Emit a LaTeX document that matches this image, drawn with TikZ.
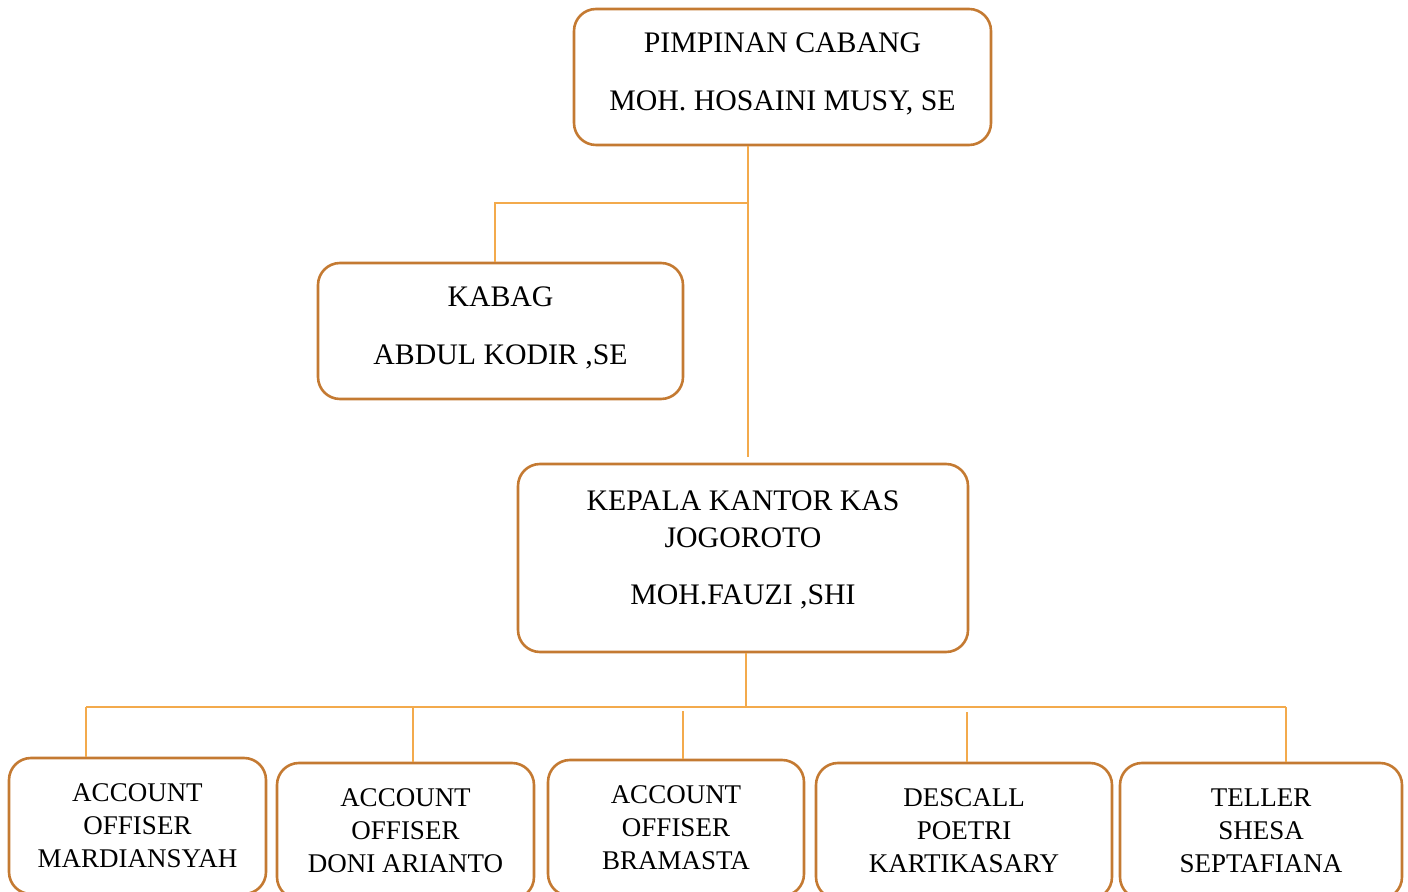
\documentclass[tikz,border=0pt]{standalone}
\usepackage{fontspec}
\setmainfont{Liberation Serif}
\definecolor{boxline}{HTML}{C47A32}
\definecolor{linkline}{HTML}{F3AA4C}
\begin{document}
\begin{tikzpicture}[x=0.5pt,y=-0.5pt,
   box/.style={draw=boxline,line width=1.3pt,rounded corners=11pt,align=center,inner sep=0pt},
   bigbox/.style={box,font=\fontsize{14.9}{18.5}\selectfont},
   smallbox/.style={box,font=\fontsize{13.5}{16.5}\selectfont,minimum height=68pt},
   link/.style={draw=linkline,line width=0.7pt}]
   \useasboundingbox (0,0) rectangle (1408,892);

   \node[bigbox,minimum width=208.5pt,minimum height=68pt,text depth=5pt] (pimpinan) at (782.5,77)
      {PIMPINAN CABANG\\[10.5pt]MOH. HOSAINI MUSY, SE};
   \node[bigbox,minimum width=182.5pt,minimum height=68pt,text depth=5pt] (kabag) at (500.5,331)
      {KABAG\\[10.5pt]ABDUL KODIR ,SE};
   \node[bigbox,minimum width=225pt,minimum height=94pt,text depth=10pt] (kepala) at (743,558)
      {KEPALA KANTOR KAS\\JOGOROTO\\[10pt]MOH.FAUZI ,SHI};

   \node[smallbox,minimum width=128.5pt] (ao1) at (137.5,826) {ACCOUNT\\OFFISER\\MARDIANSYAH};
   \node[smallbox,minimum width=128.5pt] (ao2) at (405.5,831) {ACCOUNT\\OFFISER\\DONI ARIANTO};
   \node[smallbox,minimum width=128pt] (ao3) at (676,828) {ACCOUNT\\OFFISER\\BRAMASTA};
   \node[smallbox,minimum width=148pt] (descall) at (964,831) {DESCALL\\POETRI\\KARTIKASARY};
   \node[smallbox,minimum width=141pt] (teller) at (1261,831) {TELLER\\SHESA\\SEPTAFIANA};

   % upper part
   \coordinate (j1) at (748,203);
   \coordinate (k1) at (748,457);
   \coordinate (a1) at (495,203);
   \draw[link] (pimpinan.south -| j1) -- (k1);
   \draw[link] (j1) -- (a1) -- (a1 |- kabag.north);

   % lower part
   \coordinate (j2) at (746,707);
   \coordinate (h1) at (86,707);
   \coordinate (h2) at (413,707);
   \coordinate (h3) at (683,711);
   \coordinate (h4) at (967,712);
   \coordinate (h5) at (1286,707);
   \draw[link] (kepala.south -| j2) -- (j2);
   \draw[link] (h1) -- (h5);
   \draw[link] (h1) -- (h1 |- ao1.north);
   \draw[link] (h2) -- (h2 |- ao2.north);
   \draw[link] (h3) -- (h3 |- ao3.north);
   \draw[link] (h4) -- (h4 |- descall.north);
   \draw[link] (h5) -- (h5 |- teller.north);
\end{tikzpicture}
\end{document}
